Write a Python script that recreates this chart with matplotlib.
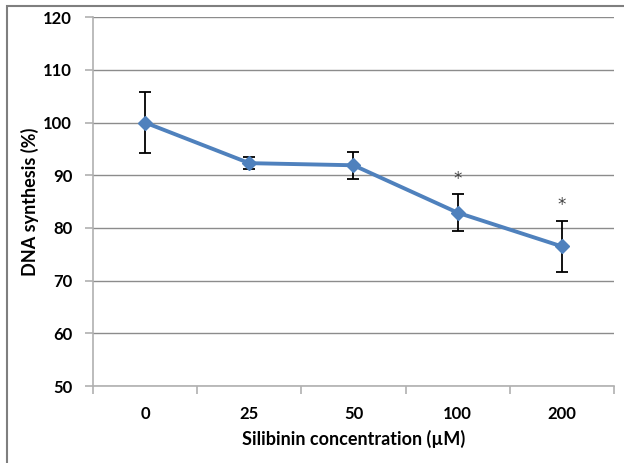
import matplotlib.pyplot as plt
from matplotlib.patches import Rectangle

# data
conc_labels = ["0", "25", "50", "100", "200"]
dna_synthesis = [100.0, 92.3, 91.9, 82.9, 76.5]
sem = [5.8, 1.1, 2.6, 3.5, 4.9]
significant = [False, False, False, True, True]

plt.rcParams['font.family'] = ['Lato', 'DejaVu Sans']

fig = plt.figure(figsize=(6.24, 4.63), dpi=100)
ax = fig.add_axes([0.149, 0.166, 0.835, 0.797])

x = list(range(len(conc_labels)))
ax.errorbar(x, dna_synthesis, yerr=sem, fmt='none', ecolor='black',
            elinewidth=1.3, capsize=4, capthick=1.3, zorder=3)
ax.plot(x, dna_synthesis, color='#4F81BD', lw=2.8, marker='D',
        markersize=7, zorder=4)

for xi, v, e, s in zip(x, dna_synthesis, sem, significant):
    if s:
        ax.text(xi, v + e + 2.9, '*', ha='center', va='center',
                fontsize=12, color='#404040', family='DejaVu Sans')

ax.set_xlim(-0.5, len(conc_labels) - 0.5)
ax.set_ylim(50, 120)
ax.set_yticks(range(50, 121, 10))
ax.set_xticks(x)
ax.set_xticklabels(conc_labels)
ax.set_xticks([i - 0.5 for i in range(len(conc_labels) + 1)], minor=True)

ax.grid(axis='y', color='#8c8c8c', lw=1)
ax.set_axisbelow(True)
for side in ['top', 'right']:
    ax.spines[side].set_visible(False)
for side in ['left', 'bottom']:
    ax.spines[side].set_color('#b0b0b0')
    ax.spines[side].set_linewidth(1.2)

ax.tick_params(axis='x', which='major', length=0, pad=14)
ax.tick_params(axis='x', which='minor', length=6, color='#b0b0b0', width=1.2)
ax.tick_params(axis='y', length=6, color='#b0b0b0', width=1.2, pad=9)
for lbl in ax.get_xticklabels() + ax.get_yticklabels():
    lbl.set_fontsize(12)
    lbl.set_fontweight('bold')

ax.set_xlabel('Silibinin concentration (µM)', fontsize=13,
              fontweight='bold', labelpad=6)
ax.set_ylabel('DNA synthesis (%)', fontsize=13, fontweight='bold',
              labelpad=3)

# outer chart border
fig.patches.append(Rectangle((7 / 624, -0.05), 1.1, 1 - 6 / 463 + 0.05,
                             transform=fig.transFigure, fill=False,
                             edgecolor='#7f7f7f', lw=1.5))

fig.savefig('out.png', dpi=100)
